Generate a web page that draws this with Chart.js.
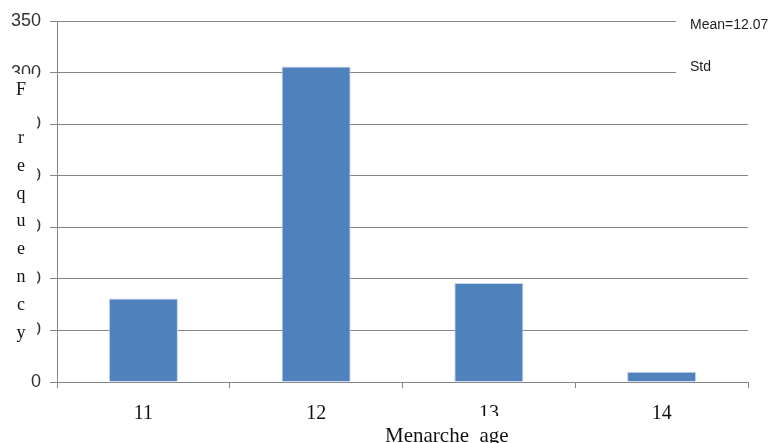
<!DOCTYPE html>
<html>
<head>
<meta charset="utf-8">
<script src="https://cdn.jsdelivr.net/npm/chart.js@4/dist/chart.umd.min.js"></script>
<style>
  html, body { margin: 0; padding: 0; background: #fff; }
  #wrap { width: 769px; height: 443px; }
</style>
</head>
<body>
<div id="wrap"><canvas id="c" width="769" height="443"></canvas></div>
<script>
// Menarche age distribution
const ages = ['11', '12', '13', '14'];
const frequency = [81, 306, 96, 10];
const yTicks = [0, 50, 100, 150, 200, 250, 300, 350];
const axisTitleY = 'Frequency';
const axisTitleX = 'Menarche  age';
const legendLines = ['Mean=12.07', 'Std'];

const gridGray = '#868686';

// Stacked-letter y title, boxed x title and the legend box at the upper right
const overlay = {
  id: 'overlay',
  afterDraw(chart) {
    const ctx = chart.ctx;
    ctx.save();
    // y title box sits over the y tick labels
    ctx.fillStyle = '#fff';
    ctx.fillRect(0, 74, 37, 270);
    ctx.fillStyle = '#111';
    ctx.font = '18px "Liberation Serif", serif';
    ctx.textAlign = 'center';
    ctx.textBaseline = 'middle';
    axisTitleY.split('').forEach((ch, i) => {
      const cy = i === 0 ? 90 : 138 + (i - 1) * 27.9;
      ctx.fillText(ch, 21, cy);
    });
    // x title box
    ctx.fillStyle = '#fff';
    ctx.fillRect(378, 416, 136, 27);
    ctx.fillStyle = '#111';
    ctx.font = '21px "Liberation Serif", serif';
    ctx.textAlign = 'left';
    ctx.textBaseline = 'alphabetic';
    ctx.fillText(axisTitleX, 385, 442);
    // legend box
    ctx.fillStyle = '#fff';
    ctx.fillRect(676, 0, 93, 108);
    ctx.fillStyle = '#222';
    ctx.font = '14px "Liberation Sans", sans-serif';
    ctx.textBaseline = 'middle';
    ctx.fillText(legendLines[0], 690, 25);
    ctx.fillText(legendLines[1], 690, 67);
    ctx.restore();
  }
};

new Chart(document.getElementById('c'), {
  type: 'bar',
  data: {
    labels: ages,
    datasets: [{
      data: frequency,
      backgroundColor: '#4f81bd',
      borderColor: '#c9d8ec',
      borderWidth: 1,
      barPercentage: 0.4,
      categoryPercentage: 1.0
    }]
  },
  options: {
    responsive: false,
    animation: false,
    devicePixelRatio: 1,
    layout: { padding: { top: 21, right: 21, left: 0, bottom: 0 } },
    plugins: { legend: { display: false }, tooltip: { enabled: false } },
    scales: {
      x: {
        offset: true,
        grid: {
          display: true,
          offset: true,
          drawOnChartArea: false,
          drawTicks: true,
          tickLength: 6,
          color: gridGray
        },
        border: { display: true, color: gridGray },
        ticks: {
          color: '#111',
          font: { family: '"Liberation Serif", serif', size: 20 },
          padding: 14
        },
        afterFit(scale) { scale.height = 61; }
      },
      y: {
        min: 0,
        max: 350,
        afterBuildTicks(scale) { scale.ticks = yTicks.map(v => ({ value: v })); },
        grid: {
          color: gridGray,
          drawTicks: true,
          tickLength: 7
        },
        border: { display: true, color: gridGray },
        ticks: {
          color: '#333',
          font: { family: '"Liberation Sans", sans-serif', size: 18 },
          padding: 9
        },
        afterFit(scale) { scale.width = 57; }
      }
    }
  },
  plugins: [overlay]
});
</script>
</body>
</html>
